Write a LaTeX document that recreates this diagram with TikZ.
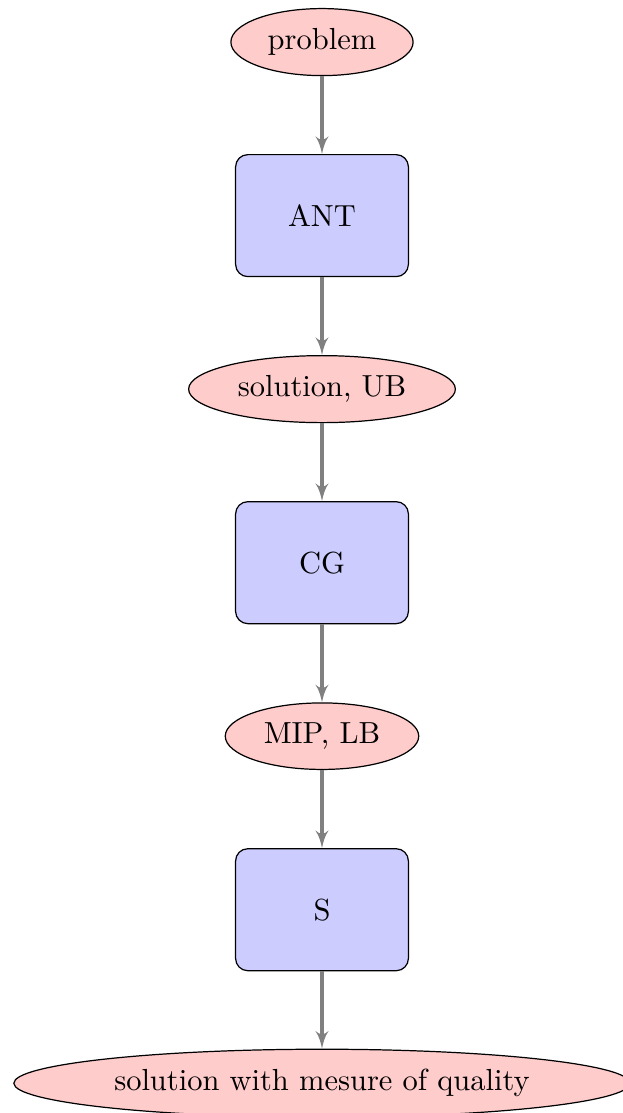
\documentclass[tikz,border=0pt]{standalone}
\usetikzlibrary{shapes.geometric,arrows,positioning}
\begin{document}
\begin{tikzpicture}[
  node distance=2cm,
  blockbox/.style={rectangle, draw, fill=blue!20, text width=5em, text centered, rounded corners, minimum height=4em},
  cloudbox/.style={ellipse, draw, fill=red!20, minimum height=2em},
  flowline/.style={draw, line width=1pt, color=black!50, -latex'}
]
\useasboundingbox (-105.6pt,13.8pt) rectangle (98.7pt,-351.2pt);
\node[cloudbox] (problem) at (0,0) {problem};
\node[blockbox, below of=problem] (ant) {ANT};
\node[cloudbox, below of=ant] (sol) {solution, UB};
\node[blockbox, below of=sol] (cg) {CG};
\node[cloudbox, below of=cg] (mip) {MIP, LB};
\node[blockbox, below of=mip] (s) {S};
\node[cloudbox, below of=s] (final) {solution with mesure of quality};
\path[flowline] (problem) -- (ant);
\path[flowline] (ant) -- (sol);
\path[flowline] (sol) -- (cg);
\path[flowline] (cg) -- (mip);
\path[flowline] (mip) -- (s);
\path[flowline] (s) -- (final);
\end{tikzpicture}
\end{document}
